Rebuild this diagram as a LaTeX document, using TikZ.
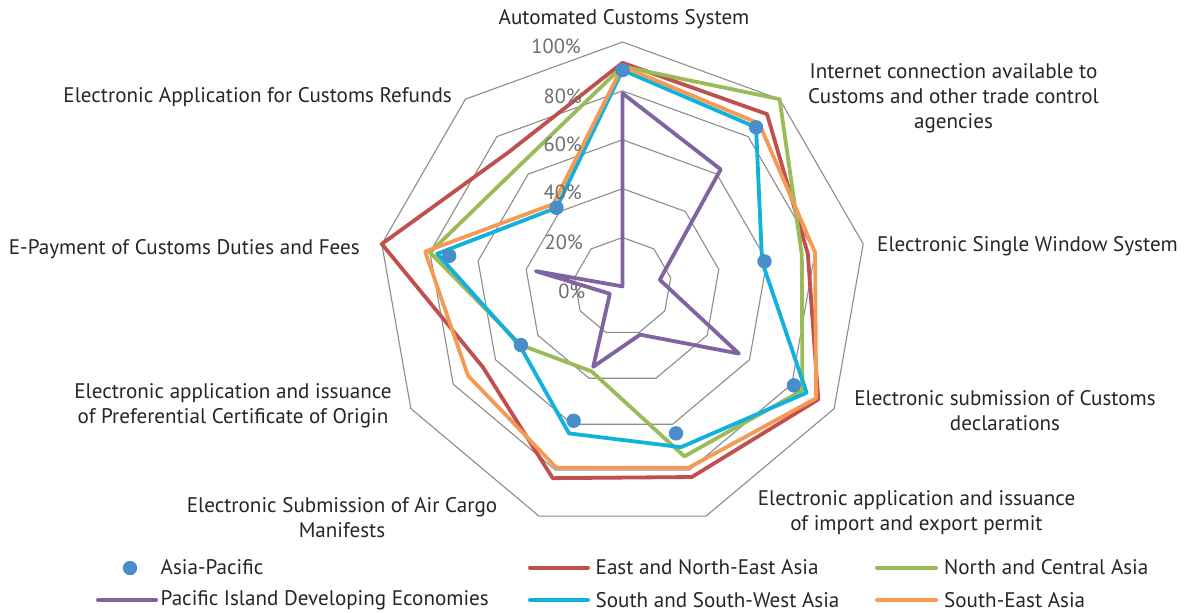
\documentclass[tikz,border=0pt]{standalone}
\usepackage{fontspec}
\setmainfont{PT Sans}
\definecolor{cRed}{HTML}{C0504D}
\definecolor{cGreen}{HTML}{9BBB59}
\definecolor{cPurple}{HTML}{8064A2}
\definecolor{cCyan}{HTML}{10B2DC}
\definecolor{cOrange}{HTML}{F59A55}
\definecolor{cDot}{HTML}{4A8DCB}
\definecolor{cRing}{HTML}{8C8C8C}
\definecolor{cText}{HTML}{262626}
\definecolor{cPct}{HTML}{6E6E6E}
\begin{document}
\begin{tikzpicture}[x=1pt,y=1pt,
  ring/.style={draw=cRing,line width=1.1pt},
  ser/.style={line width=3.8pt,line join=round},
  lab/.style={text=cText,font=\fontsize{21.1}{25}\selectfont,align=center,inner sep=0pt},
  pct/.style={text=cPct,font=\fontsize{20.5}{24}\selectfont,inner sep=0pt,anchor=east},
  legline/.style={line width=4pt,line cap=round},
]
\useasboundingbox (0,0) rectangle (1187,-613);
\fill[white] (0,0) rectangle (1187,-613);
\coordinate (C) at (622.5,-286.4);
\begin{scope}[shift={(C)},x=2.444pt,y=2.444pt]
  \foreach \r in {20,40,60,80,100}
    \draw[ring] (90:\r) \foreach \a in {50,10,-30,-70,-110,-150,-190,-230} { -- (\a:\r) } -- cycle;
  % East and North-East Asia
  \draw[ser,cRed] (90:91.5) -- (50:92) -- (10:77) -- (-30:92.5) -- (-70:83) -- (-110:83.5) -- (-150:66) -- (170:100) -- (130:72) -- cycle;
  % North and Central Asia
  \draw[ser,cGreen] (90:90) -- (50:100) -- (10:74.5) -- (-30:85) -- (-70:74) -- (-110:37) -- (-150:48) -- (170:80) -- (130:65) -- cycle;
  % Pacific Island Developing Economies
  \draw[ser,cPurple] (90:79) -- (50:62.5) -- (10:15.5) -- (-30:55) -- (-70:21) -- (-110:35) -- (-150:6) -- (170:36) -- (130:0) -- cycle;
  % South and South-West Asia
  \draw[ser,cCyan] (90:88.5) -- (50:85) -- (10:58) -- (-30:87) -- (-70:70) -- (-110:64) -- (-150:48.5) -- (170:77) -- (130:42) -- cycle;
  % South-East Asia
  \draw[ser,cOrange] (90:90) -- (50:87) -- (10:80) -- (-30:91.5) -- (-70:79) -- (-110:79) -- (-150:73) -- (170:82) -- (130:44) -- cycle;
  % Asia-Pacific markers
  \foreach \a/\v in {90/88.5,50/85,10/59,-30/81,-70/64,-110/58.5,-150/48,170/72,130/42}
    \fill[cDot] (\a:\v) circle[radius=7.2pt];
\end{scope}
% percentage labels
\node[pct] (p100) at (581,-46) {100\%};
\node[pct] (p80) at (582,-96) {80\%};
\node[pct] (p60) at (582,-144.3) {60\%};
\node[pct] (p40) at (582,-192.7) {40\%};
\node[pct] (p20) at (583,-242.7) {20\%};
\node[pct] (p0) at (585.5,-291) {0\%};
% category labels
\node[lab] (l1) at (624,-19) {Automated Customs System};
\node[lab] (l2) at (953.5,-98) {Internet connection available to\\Customs and other trade control\\agencies};
\node[lab,anchor=west] (l3) at (877,-246) {Electronic Single Window System};
\node[lab] (l4) at (1005,-411) {Electronic submission of Customs\\declarations};
\node[lab] (l5) at (916.5,-512.5) {Electronic application and issuance\\of import and export permit};
\node[lab] (l6) at (342,-517.5) {Electronic Submission of Air Cargo\\Manifests};
\node[lab] (l7) at (233,-406) {Electronic application and issuance\\of Preferential Certificate of Origin};
\node[lab,anchor=east] (l8) at (360,-249) {E-Payment of Customs Duties and Fees};
\node[lab,anchor=east] (l9) at (452,-97.5) {Electronic Application for Customs Refunds};
% legend
\fill[cDot] (130,-568) circle[radius=7.2pt];
\node[lab,anchor=west] (g1) at (160.5,-567.5) {Asia-Pacific};
\draw[legline,cRed] (530,-567.5) -- (588,-567.5);
\node[lab,anchor=west] (g2) at (595.5,-567.5) {East and North-East Asia};
\draw[legline,cGreen] (877,-567.5) -- (936,-567.5);
\node[lab,anchor=west] (g3) at (944,-567.5) {North and Central Asia};
\draw[legline,cPurple] (98,-600) -- (156,-600);
\node[lab,anchor=west] (g4) at (160.5,-600) {Pacific Island Developing Economies};
\draw[legline,cCyan] (530,-600) -- (588,-600);
\node[lab,anchor=west] (g5) at (595.5,-600) {South and South-West Asia};
\draw[legline,cOrange] (877,-600) -- (936,-600);
\node[lab,anchor=west] (g6) at (944,-600) {South-East Asia};
\end{tikzpicture}
\end{document}
